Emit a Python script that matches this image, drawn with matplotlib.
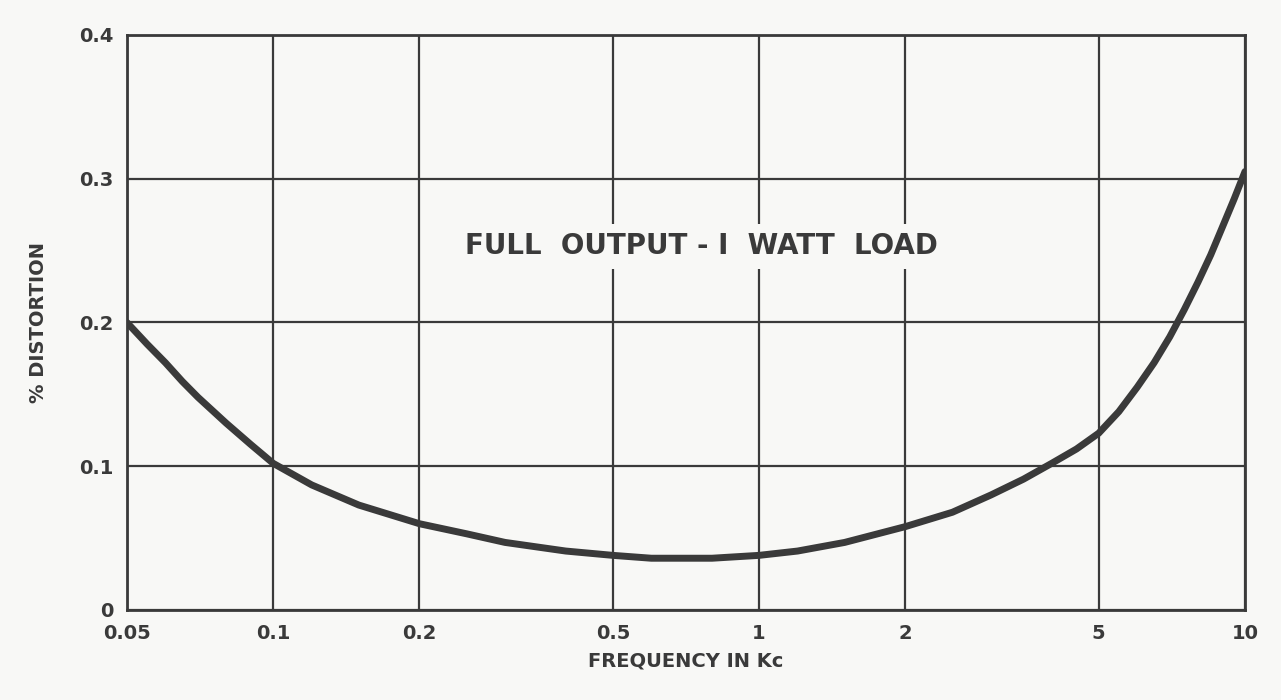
import numpy as np
import matplotlib
matplotlib.use('Agg')
from matplotlib import pyplot as plt
from matplotlib.ticker import FixedLocator, NullLocator

# values
freq = [0.05, 0.055, 0.06, 0.065, 0.07, 0.08, 0.09, 0.1, 0.12, 0.15, 0.2, 0.25,
        0.3, 0.4, 0.5, 0.6, 0.7, 0.8, 1, 1.2, 1.5, 2, 2.5, 3, 3.5, 4, 4.5,
        5, 5.5, 6, 6.5, 7, 7.5, 8, 8.5, 9, 9.5, 10]
dist = [0.200, 0.185, 0.172, 0.159, 0.148, 0.130, 0.115, 0.102, 0.087, 0.073,
        0.060, 0.053, 0.047, 0.041, 0.038, 0.036, 0.036, 0.036, 0.038, 0.041,
        0.047, 0.058, 0.068, 0.080, 0.091, 0.102, 0.112, 0.123, 0.138, 0.155,
        0.172, 0.190, 0.209, 0.228, 0.247, 0.267, 0.286, 0.305]

x_ticks = [0.05, 0.1, 0.2, 0.5, 1, 2, 5, 10]
x_labels = ['0.05', '0.1', '0.2', '0.5', '1', '2', '5', '10']
y_ticks = [0, 0.1, 0.2, 0.3, 0.4]
y_labels = ['0', '0.1', '0.2', '0.3', '0.4']

ink = '#3a3a3a'
paper = '#f8f8f6'

fig = plt.figure(figsize=(12.81, 7), dpi=100, facecolor=paper)
ax = fig.add_axes([0.0991, 0.1286, 0.8728, 0.8214], facecolor=paper)

ax.set_xscale('log')
ax.set_xlim(0.05, 10)
ax.set_ylim(0, 0.4)
ax.xaxis.set_major_locator(FixedLocator(x_ticks))
ax.xaxis.set_minor_locator(NullLocator())
ax.set_xticklabels(x_labels)
ax.set_yticks(y_ticks)
ax.set_yticklabels(y_labels)
ax.tick_params(length=0, labelsize=14, colors=ink, pad=10)
for lbl in ax.get_xticklabels() + ax.get_yticklabels():
    lbl.set_fontweight('bold')

ax.grid(True, color=ink, linewidth=1.6)
for s in ax.spines.values():
    s.set_color(ink)
    s.set_linewidth(2)

ax.plot(freq, dist, color=ink, linewidth=5, solid_capstyle='round',
        solid_joinstyle='round', zorder=3)

ax.text(0.76, 0.253, 'FULL  OUTPUT - I  WATT  LOAD', ha='center', va='center',
        fontsize=20, fontweight='bold', color=ink, zorder=4,
        bbox=dict(facecolor=paper, edgecolor='none', pad=6))

ax.set_xlabel('FREQUENCY IN Kc', fontsize=14, fontweight='bold', color=ink, labelpad=6)
ax.set_ylabel('% DISTORTION', fontsize=14, fontweight='bold', color=ink, labelpad=22)

fig.savefig('out.png', dpi=100, facecolor=paper)
